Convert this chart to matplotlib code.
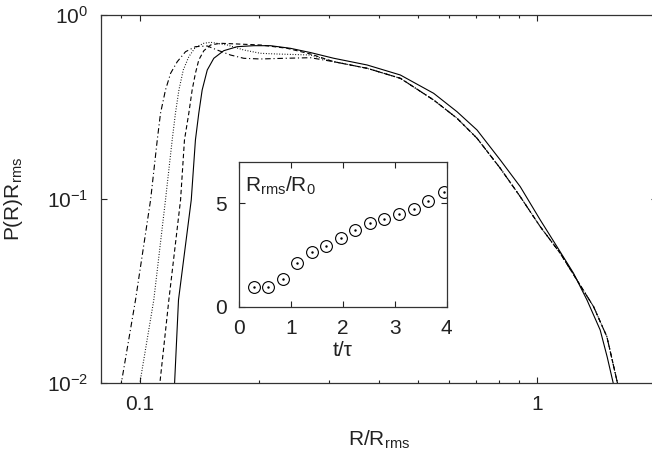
import matplotlib
matplotlib.use("Agg")
import matplotlib.pyplot as plt
from matplotlib.ticker import LogLocator, NullLocator, FixedLocator, NullFormatter

plt.rcParams['font.family'] = ['Liberation Sans', 'DejaVu Sans']
plt.rcParams['mathtext.fontset'] = 'custom'
plt.rcParams['mathtext.rm'] = 'Liberation Sans'
plt.rcParams['mathtext.it'] = 'Liberation Sans:italic'
plt.rcParams['axes.unicode_minus'] = False

# ---- main panel data: P(R) R_rms vs R/R_rms ----
tail_x = [0.3077, 0.3734, 0.4526, 0.5489, 0.6284, 0.7056, 0.8073, 0.9063, 1.0175, 1.1424,
          1.2580, 1.3853, 1.4963, 1.5915, 1.64]
tail_y = [0.5575, 0.5133, 0.4529, 0.3451, 0.2746, 0.2138, 0.1468, 0.1029, 0.0707, 0.0507,
          0.0363, 0.0260, 0.01785, 0.00996, 0.007]

solid_x = [0.119, 0.1225, 0.1253, 0.1349, 0.1382, 0.1409, 0.1437, 0.1480, 0.1537, 0.1628,
           0.1760, 0.1937, 0.2134, 0.2395, 0.2690, 0.3077, 0.3734, 0.4526, 0.5489, 0.6284,
           0.7056, 0.8073, 0.9063, 1.0175, 1.1208, 1.2335, 1.3334, 1.4394, 1.4991, 1.552, 1.585]
solid_y = [0.006, 0.01, 0.0283, 0.0988, 0.2093, 0.2922, 0.3913, 0.5025, 0.5816, 0.6397,
           0.6727, 0.6811, 0.6811, 0.6592, 0.625, 0.582, 0.535, 0.472, 0.3753, 0.2981,
           0.2371, 0.1629, 0.1166, 0.0769, 0.0551, 0.0395, 0.02826, 0.01941, 0.01384, 0.01, 0.0075]

dashed_x = [0.109, 0.1125, 0.1185, 0.1268, 0.1297, 0.1330, 0.1356, 0.1382, 0.1409, 0.1451,
            0.1509, 0.1598, 0.1760, 0.2014, 0.2350, 0.2690] + tail_x
dashed_y = [0.006, 0.01, 0.0283, 0.0988, 0.2093, 0.2922, 0.3913, 0.4821, 0.5694, 0.6397,
            0.6871, 0.7019, 0.6958, 0.6871, 0.6592, 0.6138] + tail_y

dotted_x = [0.097, 0.1002, 0.1086, 0.1162, 0.1208, 0.1231, 0.1256, 0.1288, 0.1330, 0.1382,
            0.1451, 0.1509, 0.1661, 0.1829, 0.2014, 0.2218, 0.2690] + tail_x
dotted_y = [0.006, 0.01, 0.0283, 0.0988, 0.2093, 0.2922, 0.3913, 0.5025, 0.5934, 0.6677,
            0.7019, 0.7106, 0.6871, 0.6453, 0.6192, 0.6138, 0.6061] + tail_y

dashdot_x = [0.087, 0.0900, 0.0977, 0.1066, 0.1108, 0.1129, 0.1162, 0.1197, 0.1244, 0.1305,
             0.1382, 0.1480, 0.1567, 0.1693, 0.1829, 0.2014, 0.2305, 0.2690] + tail_x
dashdot_y = [0.006, 0.01, 0.0283, 0.0988, 0.2093, 0.2922, 0.3913, 0.4821, 0.5575, 0.6317,
             0.6727, 0.6786, 0.6453, 0.6061, 0.5816, 0.5767, 0.5816, 0.5860] + tail_y

# ---- inset data: R_rms/R_0 vs t/tau ----
t_tau = [0.29, 0.56, 0.85, 1.12, 1.41, 1.68, 1.96, 2.24, 2.53, 2.80, 3.08, 3.37, 3.64, 3.94]
r_ratio = [0.97, 0.97, 1.34, 2.10, 2.65, 2.94, 3.31, 3.68, 4.03, 4.24, 4.47, 4.73, 5.08, 5.56]

W, H = 652, 459
fig = plt.figure(figsize=(W / 100, H / 100), dpi=100)

ax = fig.add_axes([101 / W, (H - 383) / H, (657 - 101) / W, (383 - 15) / H])
lw = 0.8
ax.plot(solid_x, solid_y, color='black', lw=lw, ls='-')
ax.plot(dashed_x, dashed_y, color='black', lw=lw, ls=(0, (4, 2.5)))
ax.plot(dotted_x, dotted_y, color='black', lw=lw, ls=(0, (0.8, 1.6)))
ax.plot(dashdot_x, dashdot_y, color='black', lw=lw, ls=(0, (5, 2.5, 1, 2.5)))
ax.set_xscale('log')
ax.set_yscale('log')
ax.set_xlim(0.08, 2.0)
ax.set_ylim(0.01, 1.0)
ax.xaxis.set_major_locator(FixedLocator([0.1, 1.0]))
ax.xaxis.set_minor_locator(LogLocator(base=10, subs=range(2, 10)))
ax.xaxis.set_minor_formatter(NullFormatter())
ax.set_xticklabels(['0.1', '1'])
ax.yaxis.set_major_locator(FixedLocator([0.01, 0.1, 1.0]))
ax.yaxis.set_minor_locator(NullLocator())
ax.tick_params(which='both', direction='in', top=True, right=True, labelsize=15, colors='#222222')
ax.tick_params(which='major', length=4.5, width=0.8, pad=9)
ax.tick_params(which='minor', length=2.5, width=0.8)
for s in ax.spines.values():
    s.set_linewidth(0.9)
    s.set_color('#333333')
ax.set_xlabel(r'R/R$_{\rm rms}$', fontsize=15, color='#222222')
ax.set_ylabel(r'P(R)R$_{\rm rms}$', fontsize=15, color='#222222')
ax.xaxis.set_label_coords(0.5, -0.125)
ax.yaxis.set_label_coords(-0.137, 0.5)

# ---- inset ----
ins = fig.add_axes([239 / W, (H - 306.7) / H, (446.7 - 239) / W, (306.7 - 161.7) / H])
ins.plot(t_tau, r_ratio, ls='none', marker='o', ms=8.5, mfc='none', mec='black', mew=0.8)
ins.plot(t_tau, r_ratio, ls='none', marker='.', ms=1.5, color='black')
ins.set_xlim(0, 4)
ins.set_ylim(0, 7)
ins.set_xticks([0, 1, 2, 3, 4])
ins.set_yticks([0, 5])
ins.tick_params(which='both', direction='in', top=True, right=True, labelsize=15,
                length=4.5, width=0.8, pad=9, colors='#222222')
for s in ins.spines.values():
    s.set_linewidth(0.9)
    s.set_color('#333333')
ins.set_xlabel('t/τ', fontsize=15, color='#222222', labelpad=2)
ins.text(0.03, 0.91, r'R$_{\rm rms}$/R$_0$', transform=ins.transAxes, fontsize=15,
         ha='left', va='top', color='#222222')

fig.savefig('out.png', dpi=100)
